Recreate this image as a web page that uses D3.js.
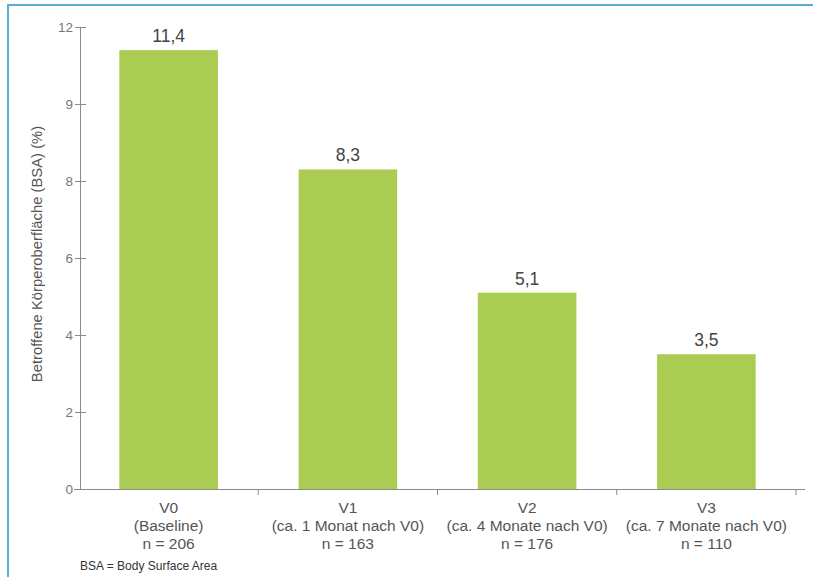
<!DOCTYPE html>
<html>
<head>
<meta charset="utf-8">
<script src="https://cdn.jsdelivr.net/npm/d3@7"></script>
<style>
  html, body { margin: 0; padding: 0; background: #fff; }
  svg { display: block; font-family: "Liberation Sans", Arial, sans-serif; }
</style>
</head>
<body>
<svg id="chart" width="813" height="577"></svg>
<script>
// Visits and their sample sizes
const visits = ["V0", "V1", "V2", "V3"];
const visitNotes = ["(Baseline)", "(ca. 1 Monat nach V0)", "(ca. 4 Monate nach V0)", "(ca. 7 Monate nach V0)"];
const sampleSizes = [206, 163, 176, 110];
// Mean affected body surface area (%)
const bsaValues = [11.4, 8.3, 5.1, 3.5];
// Y-axis ticks and their printed labels
const tickValues = [0, 2, 4, 6, 8, 10, 12];
const tickLabels = ["0", "2", "4", "6", "8", "9", "12"];

const svg = d3.select("#chart");

// Frame lines
svg.append("line").attr("x1", 7).attr("x2", 813).attr("y1", 5).attr("y2", 5)
  .attr("stroke", "#5aaed3").attr("stroke-width", 2);
svg.append("line").attr("x1", 8).attr("x2", 8).attr("y1", 4).attr("y2", 577)
  .attr("stroke", "#5aaed3").attr("stroke-width", 2);

const x = d3.scaleBand().domain(visits).range([79, 796]).paddingInner(0.45).paddingOuter(0.225);
const y = d3.scaleLinear().domain([0, 12]).range([489, 27]);

// Bars
svg.append("g").selectAll("rect").data(visits).join("rect")
  .attr("x", d => x(d))
  .attr("width", x.bandwidth())
  .attr("y", (d, i) => y(bsaValues[i]))
  .attr("height", (d, i) => y(0) - y(bsaValues[i]))
  .attr("fill", "#aacc52");

// Value labels
svg.append("g").selectAll("text").data(visits).join("text")
  .attr("x", d => x(d) + x.bandwidth() / 2)
  .attr("y", (d, i) => y(bsaValues[i]) - 8)
  .attr("text-anchor", "middle")
  .attr("font-size", 17.5)
  .attr("fill", "#444")
  .text((d, i) => String(bsaValues[i]).replace(".", ","));

// Y axis
const yAxis = d3.axisLeft(y).tickValues(tickValues)
  .tickFormat((d, i) => tickLabels[i]).tickSizeInner(6).tickSizeOuter(0);
const gy = svg.append("g").attr("transform", "translate(80,0)").call(yAxis);
gy.select(".domain").attr("stroke", "#8a8a8a");
gy.selectAll(".tick line").attr("stroke", "#8a8a8a").attr("x1", -5).attr("x2", 6);
gy.selectAll(".tick text").attr("fill", "#777").attr("font-size", 13.5)
  .attr("font-family", "Liberation Sans, Arial, sans-serif").attr("x", -7);

// X axis line and category separators
svg.append("line").attr("x1", 74).attr("x2", 805).attr("y1", 489.5).attr("y2", 489.5)
  .attr("stroke", "#8a8a8a");
const step = x.step();
svg.append("g").selectAll("line").data(visits).join("line")
  .attr("x1", (d, i) => 79 + step * (i + 1)).attr("x2", (d, i) => 79 + step * (i + 1))
  .attr("y1", 489).attr("y2", 495)
  .attr("stroke", "#8a8a8a");

// Category labels
const cat = svg.append("g").selectAll("text").data(visits).join("text")
  .attr("text-anchor", "middle")
  .attr("font-size", 15.5)
  .attr("fill", "#555");
cat.append("tspan").attr("x", d => x(d) + x.bandwidth() / 2).attr("y", 513).text(d => d);
cat.append("tspan").attr("x", d => x(d) + x.bandwidth() / 2).attr("y", 531).text((d, i) => visitNotes[i]);
cat.append("tspan").attr("x", d => x(d) + x.bandwidth() / 2).attr("y", 549).text((d, i) => "n = " + sampleSizes[i]);

// Y axis title
svg.append("text")
  .attr("transform", "translate(42,254) rotate(-90)")
  .attr("text-anchor", "middle")
  .attr("font-size", 14.8)
  .attr("fill", "#555")
  .text("Betroffene Körperoberfläche (BSA) (%)");

// Footnote
svg.append("text").attr("x", 80).attr("y", 570)
  .attr("font-size", 12).attr("fill", "#333")
  .text("BSA = Body Surface Area");
</script>
</body>
</html>
